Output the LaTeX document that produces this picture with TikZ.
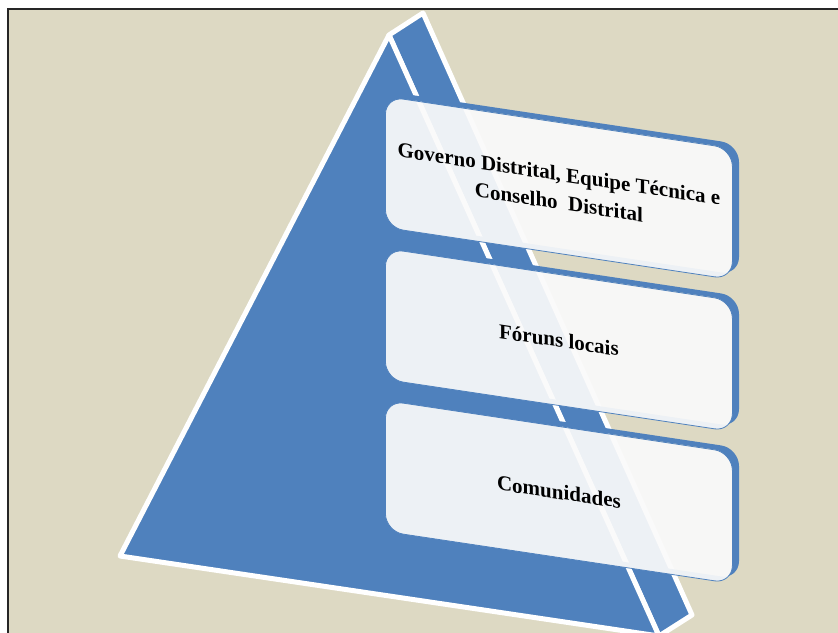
\documentclass[tikz,border=0pt]{standalone}
\usepackage{fontspec}
\setmainfont{Liberation Serif}
\usepackage{tikz}
\definecolor{piramide}{HTML}{4F81BD}
\definecolor{fundo}{HTML}{DDD9C3}

\begin{document}
\begin{tikzpicture}[x=1pt,y=-1pt]
\tikzstyle{face} = [fill=piramide, draw=white, line width=5pt, line join=round]
\tikzstyle{borda} = [fill=piramide, even odd rule, rounded corners=18pt]
\tikzstyle{nivel} = [rounded corners=18pt, fill=white!98!black, fill opacity=0.93, text opacity=1, draw=piramide, line width=0.8pt, minimum width=347pt, minimum height=131pt, inner sep=0pt, anchor=north west, align=center, font=\bfseries\fontsize{21}{28.5}\selectfont]

\useasboundingbox (0,0) rectangle (838,632);
\clip (0,0) rectangle (838,632);
\fill[white] (0,0) rectangle (838,632);
\draw[fill=fundo, draw=black!85, line width=1.5pt] (8,9) rectangle (850,650);

\coordinate (A) at (389,35);
\coordinate (A2) at (423,13);
\coordinate (L) at (120,556);
\coordinate (R) at (659,636);
\coordinate (R2) at (692,615);

\filldraw[face] (A) -- (A2) -- (R2) -- (R) -- cycle;
\filldraw[face] (A) -- (L) -- (R) -- cycle;

\begin{scope}[shift={(385,96)}, yslant=-0.15, transform shape]
\foreach \i in {0,1,2}
  \fill[borda] (7,152*\i-5) rectangle +(347,131) (0,152*\i) rectangle +(347,131);

\node[nivel] (governo) at (0,0) {Governo Distrital, Equipe Técnica e\\Conselho~~Distrital};
\node[nivel] (foruns) at (0,152) {Fóruns locais};
\node[nivel] (comunidades) at (0,304) {Comunidades};
\end{scope}
\end{tikzpicture}
\end{document}
